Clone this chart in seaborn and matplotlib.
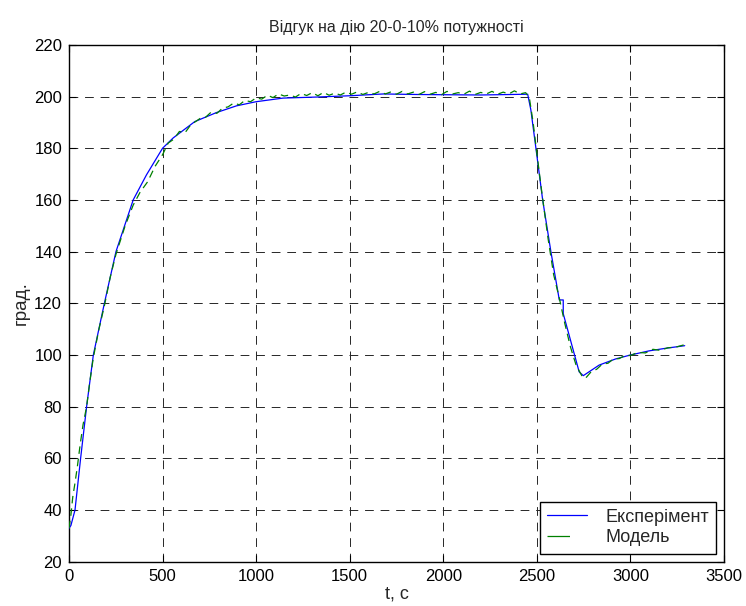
import matplotlib
matplotlib.use("Agg")
import matplotlib.pyplot as plt
from matplotlib.lines import Line2D
import seaborn as sns
import pandas as pd

# Experiment (blue, solid)
t_exp = [0, 10, 32, 62, 94, 130, 189, 251, 343, 414, 500, 557, 672, 788, 895,
         1000, 1144, 1322, 1500, 1680, 1850, 2000, 2200, 2451, 2468, 2495, 2531,
         2575, 2620, 2641, 2641, 2726, 2748, 2833, 2922, 3000, 3100, 3189, 3290]
v_exp = [33, 34, 40, 60, 80, 100, 120, 140, 160, 169.7, 180, 184, 190.3, 193.8, 196.4,
         198, 199.4, 199.8, 200.3, 201, 200.8, 200.7, 200.6, 200.9, 194.8, 180, 160,
         140, 121.3, 121.3, 116, 93.5, 92, 96.1, 98.5, 100, 101.6, 102.6, 103.6]

# Model (green, dashed) - noisy
t_mod = [0, 10, 20, 32, 45, 59, 75, 94, 110, 130, 160, 189, 220, 251, 300, 343,
         380, 420, 460, 500, 530, 560, 590, 620, 650, 680, 700, 730, 760, 790,
         820, 850, 880, 910, 940, 970, 1000, 1030, 1060, 1090, 1120, 1150, 1180,
         1210, 1240, 1270, 1300, 1330, 1360, 1390, 1420, 1450, 1480, 1510, 1540,
         1570, 1600, 1630, 1660, 1690, 1720, 1750, 1780, 1810, 1840, 1870, 1900,
         1930, 1960, 1990, 2020, 2050, 2080, 2110, 2140, 2170, 2200, 2230, 2260,
         2290, 2320, 2350, 2380, 2410, 2440, 2460, 2480, 2500, 2530, 2560, 2590,
         2620, 2650, 2680, 2710, 2740, 2760, 2790, 2820, 2850, 2880, 2910, 2940,
         2970, 3000, 3040, 3080, 3120, 3160, 3200, 3240, 3280, 3295]
v_mod = [33, 38, 45, 50.5, 57, 65, 73, 80, 89, 99, 110, 119, 130, 139, 150, 158,
         163, 167, 173, 177.5, 182, 183.5, 186.5, 186, 189, 190.5, 191.5, 192, 194,
         193.5, 195.5, 196, 197.5, 196.8, 198.5, 198, 199.5, 199, 200.5, 199.6, 201,
         200.2, 200.6, 199.8, 201.2, 200.4, 201.5, 200.3, 201.6, 200.5, 201.3, 200.6,
         201.7, 200.9, 201.8, 200.8, 201.6, 201, 202, 201, 201.8, 200.9, 202, 201,
         201.7, 200.8, 201.9, 200.9, 201.6, 200.7, 202, 201, 201.5, 200.9, 202.1,
         200.8, 201.6, 201, 202, 200.9, 201.7, 201, 202.2, 201, 201.5, 199.5, 190,
         178, 161, 145, 131, 122, 112, 103, 96, 92, 91, 93.5, 94.5, 96.5, 96.8, 98.5,
         98.6, 99.8, 99.8, 101, 100.8, 102.2, 101.8, 102.8, 103, 103.8, 104.2]

labels = ["Експерімент", "Модель"]

df_exp = pd.DataFrame({"t": t_exp, "v": v_exp})
df_mod = pd.DataFrame({"t": t_mod, "v": v_mod})

sns.set_theme(style="ticks")
plt.rcParams['font.family'] = ['Liberation Sans', 'DejaVu Sans']

fig = plt.figure(figsize=(7.46, 6.06), dpi=100)
ax = fig.add_axes([0.0925, 0.073, 0.878, 0.853])

blue = (0, 0, 1)
green = (0, 0.5, 0)
sns.lineplot(data=df_exp, x="t", y="v", ax=ax, color=blue, linewidth=0.9,
             sort=False, estimator=None, zorder=3)
sns.lineplot(data=df_mod, x="t", y="v", ax=ax, color=green, linewidth=0.9,
             linestyle=(0, (6, 4)), sort=False, estimator=None, zorder=4)

ax.set_xlim(0, 3500)
ax.set_ylim(20, 220)
ax.set_xticks(range(0, 3501, 500))
ax.set_yticks(range(20, 221, 20))
ax.grid(True, color='0.15', linestyle=(0, (9, 7)), linewidth=0.7)
ax.set_axisbelow(True)
for s in ax.spines.values():
    s.set_color('black')
    s.set_linewidth(1.0)
ax.tick_params(direction='in', length=5, width=0.8, top=True, right=True,
               labelsize=12, colors='black', pad=5)
ax.set_title("Відгук на дію 20-0-10% потужності", fontsize=11.5, pad=9)
ax.set_xlabel("t, c", fontsize=13, labelpad=1)
ax.set_ylabel("град.", fontsize=13.5, labelpad=3)

handles = [Line2D([], [], color=blue, linewidth=0.9),
           Line2D([], [], color=green, linewidth=0.9, linestyle=(0, (18, 20)))]
leg = ax.legend(handles, labels, loc='lower right', fontsize=13, frameon=True,
                fancybox=False, edgecolor='black', framealpha=1, borderaxespad=0.45,
                handlelength=2.2, handletextpad=1.0, borderpad=0.4, labelspacing=0.2)
leg.get_frame().set_linewidth(1.0)

fig.savefig("out.png", dpi=100)
